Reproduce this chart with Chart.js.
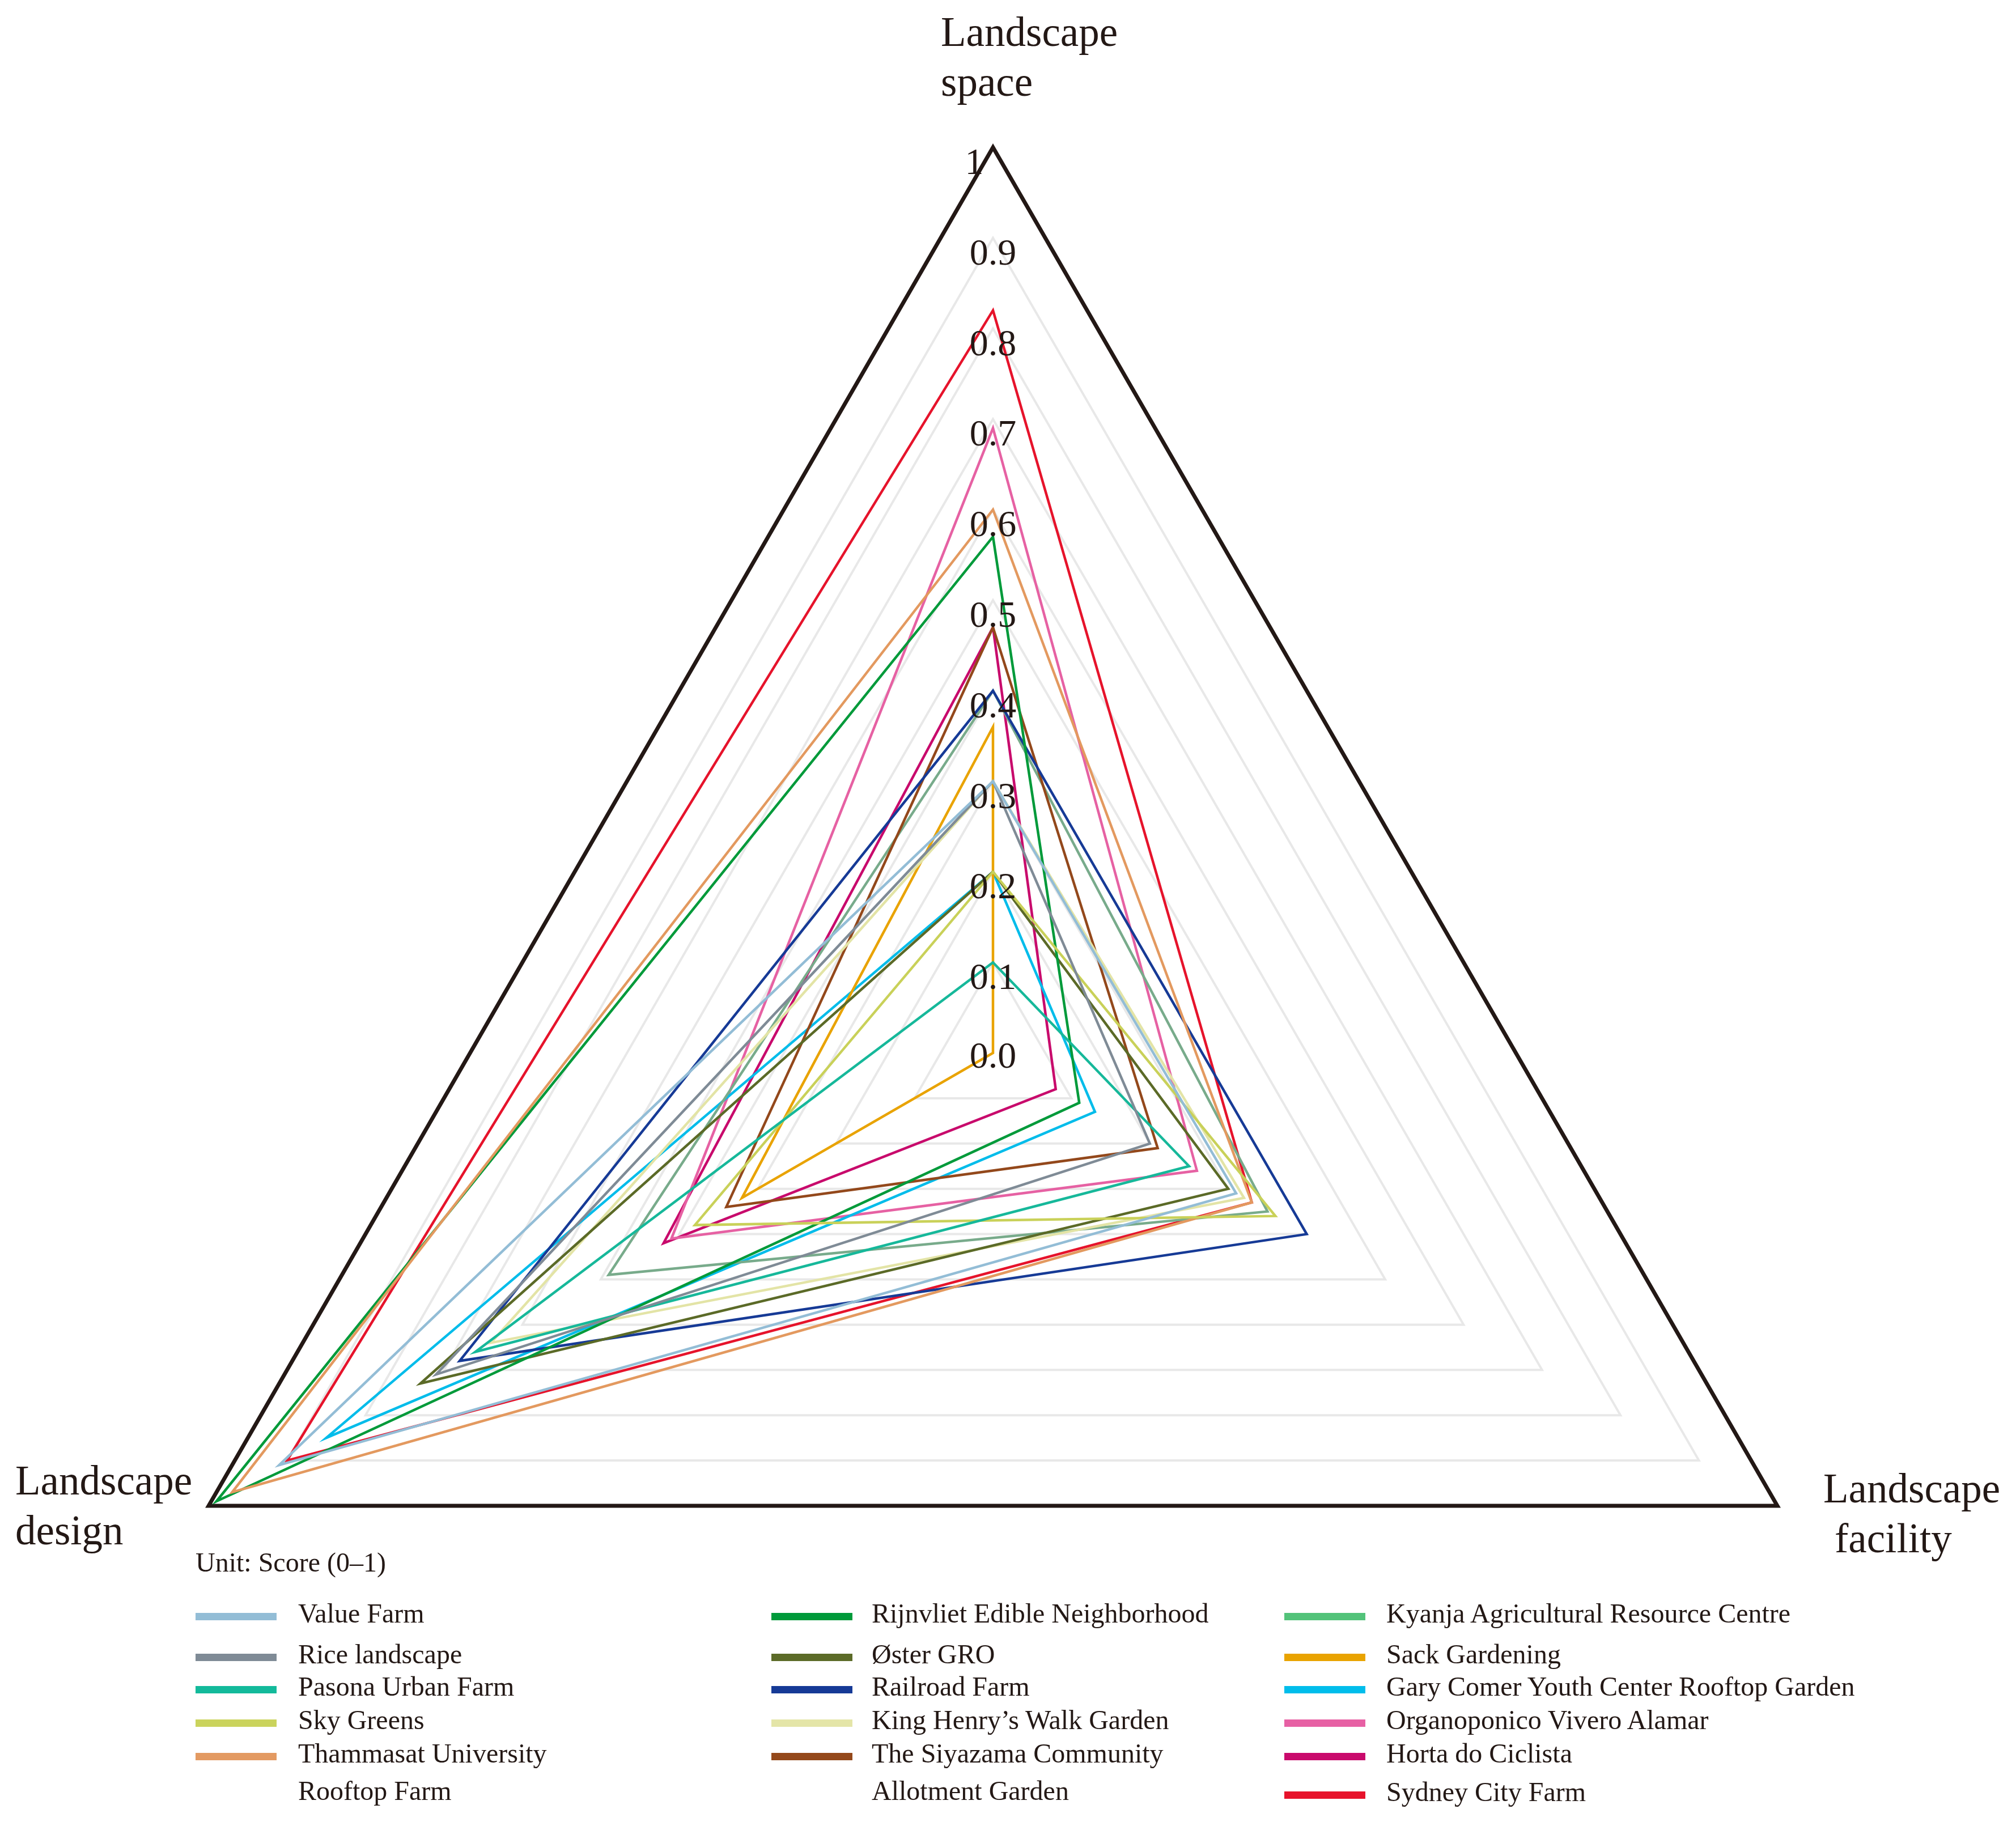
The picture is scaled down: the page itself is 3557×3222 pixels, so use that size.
<!DOCTYPE html>
<html>
<head>
<meta charset="utf-8">
<script src="https://cdn.jsdelivr.net/npm/chart.js@4.4.1/dist/chart.umd.min.js"></script>
<style>
html,body{margin:0;padding:0;background:#ffffff;width:3557px;height:3222px;overflow:hidden;}
#wrap{position:relative;width:3557px;height:3222px;font-family:'Liberation Serif','Times New Roman',serif;color:#231815;}
#c{position:absolute;left:0;top:0;}
.axis{position:absolute;font-size:73px;line-height:88px;white-space:nowrap;}
.axis span{display:block;}
.unit{position:absolute;font-size:48px;line-height:60px;white-space:nowrap;}
.sw{position:absolute;width:143px;height:13px;}
.lt{position:absolute;font-size:48px;line-height:66px;}
.tick0{position:absolute;font-size:66px;line-height:80px;width:200px;text-align:center;}
</style>
</head>
<body>
<div id="wrap">
<canvas id="c" width="3557" height="3222"></canvas>
</div>
<script>
// ---------- data ----------
const axisLabels = ['Landscape space', 'Landscape facility', 'Landscape design'];

const siteNames = [
  'Value Farm', 'Rice landscape', 'Pasona Urban Farm', 'Sky Greens',
  'Thammasat University Rooftop Farm',
  'Rijnvliet Edible Neighborhood', 'Øster GRO', 'Railroad Farm',
  'King Henry’s Walk Garden', 'The Siyazama Community Allotment Garden',
  'Kyanja Agricultural Resource Centre', 'Sack Gardening',
  'Gary Comer Youth Center Rooftop Garden', 'Organoponico Vivero Alamar',
  'Horta do Ciclista', 'Sydney City Farm'
];

// scores per axis, in the order of siteNames
const spaceScores    = [0.30, 0.30, 0.10, 0.20, 0.60, 0.57, 0.20, 0.40, 0.30, 0.47, 0.40, 0.36, 0.20, 0.69, 0.47, 0.82];
const facilityScores = [0.31, 0.20, 0.25, 0.36, 0.33, 0.11, 0.30, 0.40, 0.32, 0.21, 0.35, 0.00, 0.13, 0.26, 0.08, 0.33];
const designScores   = [0.91, 0.71, 0.66, 0.38, 0.97, 0.99, 0.73, 0.68, 0.64, 0.34, 0.49, 0.32, 0.85, 0.41, 0.42, 0.90];

const lineColors = [
  '#93BDD6', '#7F8B96', '#16B89A', '#C9D159', '#E3995F',
  '#009A3A', '#5B6A27', '#163A96', '#E3E4A6', '#93481B',
  '#78AB8B', '#E9A300', '#00BCEA', '#E661A3', '#C80A6C', '#E6132B'
];
const swatchColors = [
  '#93BDD6', '#7F8B96', '#13BA9B', '#CAD35C', '#E39A62',
  '#009A3A', '#5C6B28', '#163A96', '#E4E5A8', '#94491B',
  '#53C37A', '#E9A300', '#00BDEB', '#E760A4', '#C90A6C', '#E7132B'
];

const tickLabels = ['0.0', '0.1', '0.2', '0.3', '0.4', '0.5', '0.6', '0.7', '0.8', '0.9', '1'];
const unitText = 'Unit: Score (0–1)';

// ---------- layout constants ----------
const CX = 1752, CY = 1858, RADIUS = 1598;
const INK = '#231815';
const FONT = "'Liberation Serif', 'Times New Roman', serif";

// ---------- chart ----------
const datasets = siteNames.map((name, i) => ({
  label: name,
  data: [spaceScores[i], facilityScores[i], designScores[i]],
  borderColor: lineColors[i],
  backgroundColor: 'rgba(0,0,0,0)',
  borderWidth: 4.5,
  fill: false,
  pointRadius: 0,
  pointHoverRadius: 0,
  tension: 0,
  clip: false
}));

new Chart(document.getElementById('c').getContext('2d'), {
  type: 'radar',
  data: { labels: axisLabels, datasets },
  options: {
    responsive: false,
    animation: false,
    devicePixelRatio: 1,
    layout: { padding: 0 },
    plugins: { legend: { display: false }, tooltip: { enabled: false } },
    elements: { line: { borderJoinStyle: 'miter' } },
    scales: {
      r: {
        min: 0,
        max: 1,
        startAngle: 0,
        angleLines: { display: false },
        grid: {
          circular: false,
          color: (c) => (c.tick && c.tick.value >= 1 ? INK : '#E8E8E8'),
          lineWidth: (c) => (c.tick && c.tick.value >= 1 ? 7 : 4)
        },
        pointLabels: { display: false },
        ticks: {
          stepSize: 0.1,
          z: 1,
          showLabelBackdrop: false,
          color: INK,
          font: { family: FONT, size: 66, lineHeight: 0.45 },
          callback: (v, idx) => {
            const t = tickLabels[idx] !== undefined ? tickLabels[idx] : String(v);
            return ['', t === '1' ? '1\u2007\u2007' : t];
          }
        },
        afterFit: (scale) => {
          scale.xCenter = CX;
          scale.yCenter = CY;
          scale.drawingArea = RADIUS;
        }
      }
    }
  }
});

const wrap = document.getElementById('wrap');

// centre tick label (Chart.js skips the label of the first tick)
const t0 = document.createElement('div');
t0.className = 'tick0';
t0.textContent = tickLabels[0];
t0.style.left = (CX - 100) + 'px';
t0.style.top = (1862 - 40) + 'px';
wrap.appendChild(t0);

// ---------- axis titles (HTML text) ----------
const axisTitlePos = [
  { left: 1660, top: 13, indent2: 0 },
  { left: 3217, top: 2583, indent2: 20 },
  { left: 27, top: 2569, indent2: 0 }
];
axisLabels.forEach((lab, i) => {
  const parts = lab.split(' ');
  const d = document.createElement('div');
  d.className = 'axis';
  d.style.left = axisTitlePos[i].left + 'px';
  d.style.top = axisTitlePos[i].top + 'px';
  const s1 = document.createElement('span'); s1.textContent = parts[0];
  const s2 = document.createElement('span'); s2.textContent = parts.slice(1).join(' ');
  s2.style.paddingLeft = axisTitlePos[i].indent2 + 'px';
  d.appendChild(s1); d.appendChild(s2);
  wrap.appendChild(d);
});

// ---------- legend (HTML) ----------
const unit = document.createElement('div');
unit.className = 'unit';
unit.textContent = unitText;
unit.style.left = '345px';
unit.style.top = (2757 - 30) + 'px';
wrap.appendChild(unit);

const colSwatchX = [345, 1361, 2266];
const colTextX = [526, 1538, 2446];
const colTextW = [470, 640, 900];
const rowY = [2852, 2924, 2981, 3040, 3099, 3167];
const columns = [[0, 1, 2, 3, 4], [5, 6, 7, 8, 9], [10, 11, 12, 13, 14, 15]];

columns.forEach((items, c) => {
  items.forEach((di, r) => {
    const y = rowY[r];
    const sw = document.createElement('div');
    sw.className = 'sw';
    sw.style.left = colSwatchX[c] + 'px';
    sw.style.top = (y - 6) + 'px';
    sw.style.background = swatchColors[di];
    wrap.appendChild(sw);
    const t = document.createElement('div');
    t.className = 'lt';
    t.textContent = siteNames[di];
    t.style.left = colTextX[c] + 'px';
    t.style.top = (y - 33 - 5) + 'px';
    t.style.width = colTextW[c] + 'px';
    wrap.appendChild(t);
  });
});
</script>
</body>
</html>
